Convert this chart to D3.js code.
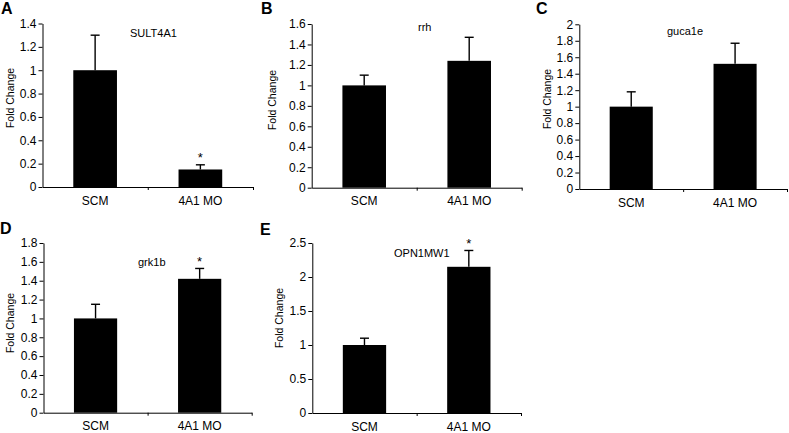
<!DOCTYPE html>
<html>
<head>
<meta charset="utf-8">
<script src="https://cdn.jsdelivr.net/npm/d3@7"></script>
<style>
  html, body { margin: 0; padding: 0; background: #fff; }
  svg { display: block; font-family: "Liberation Sans", Arial, sans-serif; }
</style>
</head>
<body>
<svg id="chart" width="789" height="433"></svg>
<script>
// ---- data ----
const genes = ["SULT4A1", "rrh", "guca1e", "grk1b", "OPN1MW1"];
const panelLetters = ["A", "B", "C", "D", "E"];
const groups = ["SCM", "4A1 MO"];
const scmMean = [1.0, 1.0, 1.0, 1.0, 1.0];
const scmErr  = [0.30, 0.10, 0.18, 0.15, 0.10];
const moMean  = [0.15, 1.24, 1.52, 1.42, 2.15];
const moErr   = [0.04, 0.23, 0.25, 0.11, 0.24];
const moSignificant = [true, false, false, true, true];
const yTickLabels = [
  ["0", "0.2", "0.4", "0.6", "0.8", "1", "1.2", "1.4"],
  ["0", "0.2", "0.4", "0.6", "0.8", "1", "1.2", "1.4", "1.6"],
  ["0", "0.2", "0.4", "0.6", "0.8", "1", "1.2", "1.4", "1.6", "1.8", "2"],
  ["0", "0.2", "0.4", "0.6", "0.8", "1", "1.2", "1.4", "1.6", "1.8"],
  ["0", "0.5", "1", "1.5", "2", "2.5"]
];
const yAxisTitle = "Fold Change";

// ---- layout (positions only) ----
const layout = [
  {x0: 42.5, x1: 253,   yTop: 23.5,  y0: 187,   lx: 1,   ly: 13.5,  tx: 130, ty: 37,  fx: 14,  fy: 98},
  {x0: 311.7, x1: 521.7, yTop: 24,   y0: 187.7, lx: 261, ly: 13.5,  tx: 418, ty: 31,  fx: 276, fy: 100},
  {x0: 579.3, x1: 787,  yTop: 24.3,  y0: 189,   lx: 536, ly: 13.5,  tx: 667, ty: 35,  fx: 551, fy: 99},
  {x0: 43.5, x1: 251.7, yTop: 243,   y0: 412.7, lx: 0,   ly: 233.5, tx: 138, ty: 266, fx: 14,  fy: 323},
  {x0: 312.3, x1: 521,  yTop: 243,   y0: 413,   lx: 260, ly: 235,   tx: 394, ty: 256.5, fx: 283, fy: 318}
];

const svg = d3.select("#chart");
svg.append("rect").attr("width", 789).attr("height", 433).attr("fill", "#fff");

genes.forEach((gene, i) => {
  const L = layout[i];
  const g = svg.append("g");
  const ticks = yTickLabels[i].map(Number);
  const yMax = ticks[ticks.length - 1];
  const y = d3.scaleLinear().domain([0, yMax]).range([L.y0, L.yTop]);
  const x = d3.scaleBand().domain(groups).range([L.x0, L.x1]).padding(0);
  const barW = x.bandwidth() * 0.415;

  const rows = [
    {grp: groups[0], mean: scmMean[i], err: scmErr[i], sig: false},
    {grp: groups[1], mean: moMean[i], err: moErr[i], sig: moSignificant[i]}
  ];

  // bars
  g.selectAll("rect.bar").data(rows).join("rect")
    .attr("class", "bar")
    .attr("x", d => x(d.grp) + (x.bandwidth() - barW) / 2)
    .attr("width", barW)
    .attr("y", d => y(d.mean))
    .attr("height", d => y(0) - y(d.mean))
    .attr("fill", "#000");

  // error bars (upper only)
  const cx = d => x(d.grp) + x.bandwidth() / 2;
  g.selectAll("line.err").data(rows).join("line")
    .attr("class", "err")
    .attr("x1", cx).attr("x2", cx)
    .attr("y1", d => y(d.mean)).attr("y2", d => y(d.mean + d.err))
    .attr("stroke", "#000").attr("stroke-width", 1.4);
  g.selectAll("line.cap").data(rows).join("line")
    .attr("class", "cap")
    .attr("x1", d => cx(d) - 4.5).attr("x2", d => cx(d) + 4.5)
    .attr("y1", d => y(d.mean + d.err)).attr("y2", d => y(d.mean + d.err))
    .attr("stroke", "#000").attr("stroke-width", 1.4);

  // significance stars
  g.selectAll("text.star").data(rows.filter(d => d.sig)).join("text")
    .attr("class", "star")
    .attr("x", cx)
    .attr("y", d => y(d.mean + d.err) - 2.5)
    .attr("text-anchor", "middle")
    .attr("font-size", 13)
    .attr("fill", "#000")
    .text("*");

  // y axis
  const yAxis = d3.axisLeft(y)
    .tickValues(ticks)
    .tickFormat((d, k) => yTickLabels[i][k])
    .tickSize(4).tickSizeOuter(0).tickPadding(2);
  const ya = g.append("g").attr("transform", `translate(${L.x0},0)`).call(yAxis);
  ya.selectAll("text").attr("font-size", 12).attr("fill", "#000")
    .attr("font-family", '"Liberation Sans", Arial, sans-serif');
  ya.selectAll("line,path").attr("stroke", "#000").attr("stroke-width", 1);

  // x axis line with boundary ticks
  const xb = d3.scaleLinear().domain([0, 2]).range([L.x0, L.x1]);
  const xAxis = d3.axisBottom(xb).tickValues([1, 2]).tickSize(3).tickSizeOuter(0).tickFormat("");
  const xa = g.append("g").attr("transform", `translate(0,${L.y0})`).call(xAxis);
  xa.selectAll("line,path").attr("stroke", "#000").attr("stroke-width", 1);

  // category labels
  const xc = d3.axisBottom(x).tickSize(0).tickPadding(9);
  const xl = g.append("g").attr("transform", `translate(0,${L.y0})`).call(xc);
  xl.select(".domain").remove();
  xl.selectAll("text").attr("font-size", 12).attr("fill", "#000")
    .attr("font-family", '"Liberation Sans", Arial, sans-serif');

  // y axis title
  g.append("text")
    .attr("transform", `translate(${L.fx},${L.fy}) rotate(-90)`)
    .attr("text-anchor", "middle")
    .attr("font-size", 10.5)
    .attr("fill", "#000")
    .text(yAxisTitle);

  // gene title
  g.append("text")
    .attr("x", L.tx).attr("y", L.ty)
    .attr("font-size", 11)
    .attr("fill", "#000")
    .text(gene);

  // panel letter
  g.append("text")
    .attr("x", L.lx).attr("y", L.ly)
    .attr("font-size", 16)
    .attr("font-weight", "bold")
    .attr("fill", "#000")
    .text(panelLetters[i]);
});
</script>
</body>
</html>
